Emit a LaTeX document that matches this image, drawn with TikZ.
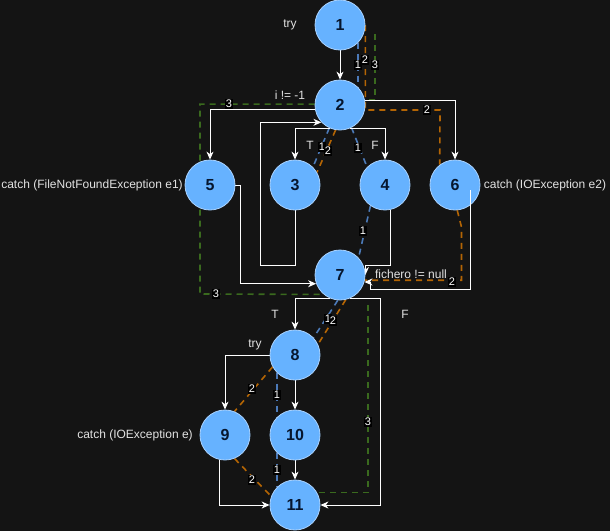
\documentclass[tikz,border=0pt]{standalone}
\usepackage{fontspec}
\setmainfont{Liberation Sans}
\usetikzlibrary{arrows.meta,backgrounds}
\definecolor{bgdark}{HTML}{141414}
\definecolor{nodeblue}{HTML}{66B2FF}
\definecolor{nodeline}{HTML}{A8D2FF}
\definecolor{nodetext}{HTML}{06162E}
\definecolor{notegray}{HTML}{E2E2E2}
\definecolor{pblue}{HTML}{4C7AB8}
\definecolor{porange}{HTML}{B46504}
\definecolor{pgreen}{HTML}{3A6A1E}

\begin{document}
\begin{tikzpicture}[x=1pt,y=-1pt,
  vertex/.style={circle,minimum size=50pt,inner sep=0pt,fill=nodeblue,draw=nodeline,line width=0.8pt,
    text=nodetext,font=\bfseries\fontsize{16}{16}\selectfont},
  note/.style={text=notegray,inner sep=0pt,font=\fontsize{12}{12}\selectfont},
  num/.style={fill=black,text=white,inner sep=1pt,font=\fontsize{11}{11}\selectfont},
  flow/.style={draw=white,line width=1pt,-{Stealth[length=8pt,width=7pt,inset=2.5pt]}},
  pone/.style={draw=pblue,line width=1.6pt,dash pattern=on 6pt off 5pt},
  ptwo/.style={draw=porange,line width=1.6pt,dash pattern=on 6pt off 5pt},
  pthree/.style={draw=pgreen,line width=1.6pt,dash pattern=on 6pt off 5pt}]
\useasboundingbox (0,0) rectangle (610,531);

\node[vertex] (n1) at (340,25) {1};
\node[vertex] (n2) at (340,105) {2};
\node[vertex] (n3) at (295,185) {3};
\node[vertex] (n4) at (385,185) {4};
\node[vertex] (n5) at (210,185) {5};
\node[vertex] (n6) at (455,185) {6};
\node[vertex] (n7) at (340,275) {7};
\node[vertex] (n8) at (295,355) {8};
\node[vertex] (n9) at (225,435) {9};
\node[vertex] (n10) at (295,435) {10};
\node[vertex] (n11) at (295,505) {11};

\coordinate (g1) at (375,34);
\coordinate (g7) at (368,305);

\begin{scope}[on background layer]
\fill[bgdark] (0,0) rectangle (610,531);
% path 1
\draw[pone] (n1.-44) -- (n2.44);
\draw[pone] (n2.245) -- (n3.45);
\draw[pone] (n2.297) -- (n4.135);
\draw[pone] (n4.235) -- (n7.43);
\draw[pone] (n7.265) -- (n8.43);
\draw[pone] (n8.224) -- (n10.136);
\draw[pone] (n10.224) -- (n11.136);
% path 2
\draw[ptwo] (n1.east) |- (440,110) -- (n6.127);
\draw[ptwo] (n2.260) -- (n3.30);
\draw[ptwo] (n6.-85) -- (461.5,227) |- (n7.-12);
\draw[ptwo] (n7.283) -- (n8.25);
\draw[ptwo] (n8.208) -- (n9.68);
\draw[ptwo] (n9.-68) -- (n11.160);
% path 3
\draw[pthree] (g1) |- (n2.11);
\draw[pthree] (n2.178) -| (200,294) -- (n7.230);
\draw[pthree] (g7) |- (n11.29);
% control flow
\draw[flow] (n1) -- (n2);
\draw[flow] (n2.191) -| (n5);
\draw[flow] (n2.10) -| (n6);
\draw[flow] (n2.247) -| (n3);
\draw[flow] (n2.293) -| (n4);
\draw[flow] (n3.south) |- (260,265) |- (n2.223);
\draw[flow] (n4.282) |- ([yshift=10pt]n7.east) -- (n7.east);
\draw[flow] (n5.east) -- ++(5,0) |- (n7.200);
\draw[flow] (n7.246) -| (n8);
\draw[flow] (n7.294) -- ++(30,0) |- (n11.east);
\draw[flow] (n8.west) -| (n9);
\draw[flow] (n8) -- (n10);
\draw[flow] (n10) -- (n11);
\draw[flow] (n9.258) |- (n11.west);
\end{scope}

\draw[flow] ([xshift=15pt,yshift=-5pt]n6.center) |- (370,289) |- (n7.-16);

\node[note] (try1) at (290,25) {try};
\node[note] (cond2) at (290,95) {i != -1};
\node[note] (t2) at (310,145) {T};
\node[note] (f2) at (375,145) {F};
\node[note] (catch5) at (92,185) {catch (FileNotFoundException e1)};
\node[note] (catch6) at (545,185) {catch (IOException e2)};
\node[note] (cond7) at (411,274) {fichero != null};
\node[note] (t7) at (275,314) {T};
\node[note] (f7) at (405,314) {F};
\node[note] (try8) at (255,345) {try};
\node[note] (catch9) at (135,435) {catch (IOException e)};

\foreach \x/\y/\t [count=\i] in {358/65/1, 365/60/2, 375/65/3, 229/104/3, 427/110/2,
    322/147/1, 328/151/2, 358/148/1, 363/231/1, 452/282/2, 216/294/3, 328/319/1,
    333/321/2, 252/389/2, 277/395/1, 368/422/3, 277/470/1, 252/480/2}
  \node[num] (num\i) at (\x,\y) {\t};
\end{tikzpicture}
\end{document}
